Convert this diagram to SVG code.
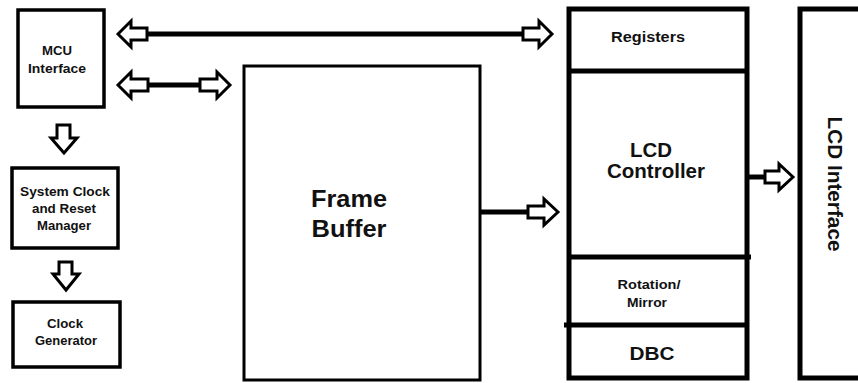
<svg xmlns="http://www.w3.org/2000/svg" width="858" height="383" viewBox="0 0 858 383">
<style>
  .box{fill:#fff;stroke:#000;}
  .thin{stroke-width:3.5;}
  .thick{stroke-width:5;}
  .div{stroke:#000;stroke-width:5;}
  .shaft{stroke:#000;stroke-width:5;fill:none;}
  .head{fill:#fff;stroke:#000;stroke-width:3;stroke-linejoin:miter;}
  text{font-family:"Liberation Sans",Arial,sans-serif;font-weight:bold;fill:#111;text-anchor:middle;}
</style>
<rect width="858" height="383" fill="#fff"/>

<g id="mcu">
  <rect class="box thin" x="18" y="10" width="86" height="97"/>
  <text x="57" y="55" font-size="13" textLength="30" lengthAdjust="spacingAndGlyphs">MCU</text>
  <text x="57" y="73" font-size="13" textLength="58" lengthAdjust="spacingAndGlyphs">Interface</text>
</g>
<g id="sysclk">
  <rect class="box thin" x="12" y="168" width="106" height="80"/>
  <text x="65" y="196" font-size="13.5" textLength="90" lengthAdjust="spacingAndGlyphs">System Clock</text>
  <text x="64" y="213" font-size="13.5" textLength="64" lengthAdjust="spacingAndGlyphs">and Reset</text>
  <text x="64" y="230" font-size="13.5" textLength="54" lengthAdjust="spacingAndGlyphs">Manager</text>
</g>
<g id="clkgen">
  <rect class="box thin" x="13" y="302" width="107" height="65"/>
  <text x="65" y="328" font-size="13.5" textLength="36" lengthAdjust="spacingAndGlyphs">Clock</text>
  <text x="66" y="345" font-size="13.5" textLength="62" lengthAdjust="spacingAndGlyphs">Generator</text>
</g>
<g id="framebuffer">
  <rect class="box" stroke-width="3" x="244" y="66" width="236" height="314"/>
  <text x="349" y="207" font-size="23" textLength="76" lengthAdjust="spacingAndGlyphs">Frame</text>
  <text x="349" y="237" font-size="23" textLength="75" lengthAdjust="spacingAndGlyphs">Buffer</text>
</g>
<g id="controller">
  <rect class="box thick" x="569" y="9" width="178" height="369"/>
  <line class="div" x1="569" y1="71" x2="747" y2="71"/>
  <line class="div" x1="569" y1="257" x2="751" y2="257"/>
  <line class="div" x1="564" y1="325" x2="747" y2="325"/>
  <text x="648" y="42" font-size="14.5" textLength="74" lengthAdjust="spacingAndGlyphs">Registers</text>
  <text x="651" y="157" font-size="19.5" textLength="42" lengthAdjust="spacingAndGlyphs">LCD</text>
  <text x="656" y="178" font-size="19.5" textLength="98" lengthAdjust="spacingAndGlyphs">Controller</text>
  <text x="649" y="289" font-size="12.5" textLength="63" lengthAdjust="spacingAndGlyphs">Rotation/</text>
  <text x="647" y="307" font-size="12.5" textLength="40" lengthAdjust="spacingAndGlyphs">Mirror</text>
  <text x="652" y="360" font-size="19" textLength="45" lengthAdjust="spacingAndGlyphs">DBC</text>
</g>
<g id="lcdif">
  <rect class="box thick" x="800" y="9" width="70" height="369"/>
  <text transform="translate(828,184) rotate(90)" font-size="19.5" textLength="135" lengthAdjust="spacingAndGlyphs">LCD Interface</text>
</g>

<g id="connectors">
  <line class="shaft" x1="147" y1="34" x2="523" y2="34"/>
  <path class="head" d="M118,34 L131,21 L131,28 L147,28 L147,40 L131,40 L131,47 Z"/>
  <path class="head" d="M552,34 L539,21 L539,28 L523,28 L523,40 L539,40 L539,47 Z"/>

  <line class="shaft" x1="148" y1="85" x2="200" y2="85"/>
  <path class="head" d="M118,85 L131,72 L131,79 L148,79 L148,91 L131,91 L131,98 Z"/>
  <path class="head" d="M230,85 L217,72 L217,79 L200,79 L200,91 L217,91 L217,98 Z"/>

  <line class="shaft" x1="480" y1="212" x2="528" y2="212"/>
  <path class="head" d="M558,212 L544,199 L544,206 L528,206 L528,218 L544,218 L544,225 Z"/>

  <line class="shaft" x1="749" y1="177" x2="765" y2="177"/>
  <path class="head" d="M793,177 L779,164 L779,171 L765,171 L765,183 L779,183 L779,190 Z"/>

  <path class="head" d="M64,153 L51,138 L57,138 L57,125 L70,125 L70,138 L77,138 Z"/>
  <path class="head" d="M66,290 L53,274 L59,274 L59,262 L72,262 L72,274 L79,274 Z"/>
</g>
</svg>
